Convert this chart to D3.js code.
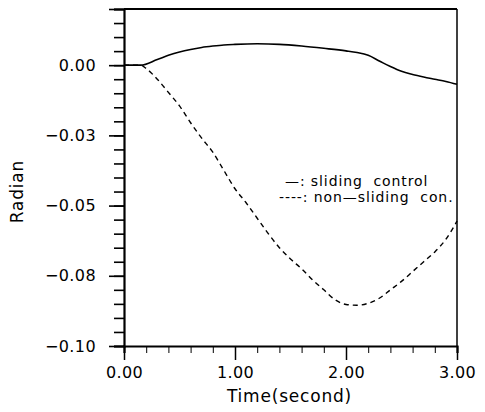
<!DOCTYPE html>
<html>
<head>
<meta charset="utf-8">
<script src="https://cdn.jsdelivr.net/npm/d3@7"></script>
<style>
    body { margin: 0; background: #fff; }
    svg text { font-family: "DejaVu Sans", sans-serif; fill: #000; }
</style>
</head>
<body>
<div id="chart"></div>
<script>
// time samples (seconds)
const timeSliding = [0, 0.15, 0.3, 0.4, 0.5, 0.6, 0.7, 0.8, 0.9, 1.0, 1.2, 1.4, 1.6, 1.8, 2.0, 2.1, 2.2, 2.3, 2.4, 2.5, 2.6, 2.7, 2.8, 2.9, 3.0];
const slidingControl = [0, 0, 0.002, 0.0035, 0.0047, 0.0056, 0.0063, 0.0068, 0.0072, 0.0074, 0.0076, 0.0074, 0.0068, 0.006, 0.0051, 0.0045, 0.0035, 0.0015, -0.0005, -0.0022, -0.0033, -0.0042, -0.005, -0.0058, -0.0068];

const timeNonSliding = [0, 0.15, 0.2, 0.3, 0.4, 0.5, 0.6, 0.7, 0.8, 0.9, 1.0, 1.1, 1.2, 1.3, 1.4, 1.5, 1.6, 1.7, 1.8, 1.9, 2.0, 2.1, 2.2, 2.3, 2.4, 2.5, 2.6, 2.7, 2.8, 2.9, 3.0];
const nonSlidingControl = [0, 0, -0.0012, -0.005, -0.0097, -0.0145, -0.0205, -0.026, -0.031, -0.0375, -0.044, -0.049, -0.0545, -0.06, -0.065, -0.069, -0.0725, -0.0765, -0.08, -0.0835, -0.0852, -0.0855, -0.0848, -0.083, -0.08, -0.077, -0.0735, -0.07, -0.0665, -0.062, -0.0555];

const xTickValues = [0, 1, 2, 3];
const xTickLabels = ["0.00", "1.00", "2.00", "3.00"];
const yTickValues = [0, -0.025, -0.05, -0.075, -0.1];
const yTickLabels = ["0.00", "\u22120.03", "\u22120.05", "\u22120.08", "\u22120.10"];

const legendLabels = ["\u2014: sliding  control", "----: non\u2014sliding  con."];

const margin = { top: 9, right: 28, bottom: 66, left: 124 },
    width = 485 - margin.left - margin.right,
    height = 412 - margin.top - margin.bottom;

const svg = d3.select("#chart")
    .append("svg")
    .attr("width", 485)
    .attr("height", 412)
    .append("g")
    .attr("transform", "translate(" + margin.left + "," + margin.top + ")");

const x = d3.scaleLinear().domain([0, 3]).range([0, width]);
const y = d3.scaleLinear().domain([-0.1, 0.02]).range([height, 0]);

// frame top and right
svg.append("line").attr("x1", 0).attr("x2", width).attr("y1", 0).attr("y2", 0)
    .attr("stroke", "#000").attr("stroke-width", 1.8);
svg.append("line").attr("x1", width).attr("x2", width).attr("y1", 0).attr("y2", height)
    .attr("stroke", "#000").attr("stroke-width", 1.5);

// Y axis: minor ticks every 0.005, major every 0.025
const yAxis = svg.append("g")
    .call(d3.axisLeft(y).tickValues(d3.range(-0.1, 0.0201, 0.005)).tickSize(10).tickFormat(""));
yAxis.select(".domain").attr("stroke-width", 2.2);
yAxis.selectAll(".tick line").attr("stroke-width", 1.6);

svg.append("g")
    .call(d3.axisLeft(y).tickValues(yTickValues.concat([0.02])).tickSize(15)
        .tickFormat((d, i) => yTickLabels[i] || ""))
    .call(g => g.select(".domain").remove())
    .call(g => g.selectAll(".tick line").attr("stroke-width", 1.6))
    .selectAll("text")
    .attr("x", -28)
    .attr("font-size", "16px")
    .attr("letter-spacing", "0.4px");

// X axis: minor ticks every 0.2
const xAxis = svg.append("g")
    .attr("transform", "translate(0," + height + ")")
    .call(d3.axisBottom(x).tickValues(d3.range(0.2, 2.9, 0.2)).tickSize(7).tickFormat(""));
xAxis.select(".domain").attr("stroke-width", 2.2);
xAxis.selectAll(".tick line").attr("stroke-width", 1);

svg.append("g")
    .attr("transform", "translate(0," + height + ")")
    .call(d3.axisBottom(x).tickValues(xTickValues).tickSize(14)
        .tickFormat((d, i) => xTickLabels[i]))
    .call(g => g.select(".domain").remove())
    .call(g => g.selectAll(".tick line").attr("stroke-width", 1.5))
    .selectAll("text")
    .attr("y", 21)
    .attr("font-size", "16px")
    .attr("letter-spacing", "0.4px");

// axis titles
svg.append("text")
    .attr("x", width / 2 - 1)
    .attr("y", height + 56)
    .attr("text-anchor", "middle")
    .attr("font-size", "17px")
    .attr("letter-spacing", "0.8px")
    .text("Time(second)");

svg.append("text")
    .attr("transform", "translate(" + (-101) + "," + (y(-0.045)) + ") rotate(-90)")
    .attr("text-anchor", "middle")
    .attr("font-size", "17px")
    .attr("letter-spacing", "0.8px")
    .text("Radian");

// curves
const line = d3.line()
    .x(d => x(d[0]))
    .y(d => y(d[1]))
    .curve(d3.curveMonotoneX);

svg.append("path")
    .datum(d3.zip(timeSliding, slidingControl))
    .attr("fill", "none")
    .attr("stroke", "#000")
    .attr("stroke-width", 1.6)
    .attr("d", line);

svg.append("path")
    .datum(d3.zip(timeNonSliding, nonSlidingControl))
    .attr("fill", "none")
    .attr("stroke", "#000")
    .attr("stroke-width", 1.4)
    .attr("stroke-dasharray", "5,4")
    .attr("d", line);

// legend
const legend = svg.append("g")
    .attr("transform", "translate(" + 155 + "," + 177 + ")");
legend.selectAll("text")
    .data(legendLabels)
    .enter()
    .append("text")
    .attr("xml:space", "preserve")
    .attr("x", (d, i) => i === 0 ? 6 : 0)
    .attr("y", (d, i) => i * 16)
    .attr("font-size", "14px")
    .attr("letter-spacing", "0.9px")
    .text(d => d);
</script>
</body>
</html>
